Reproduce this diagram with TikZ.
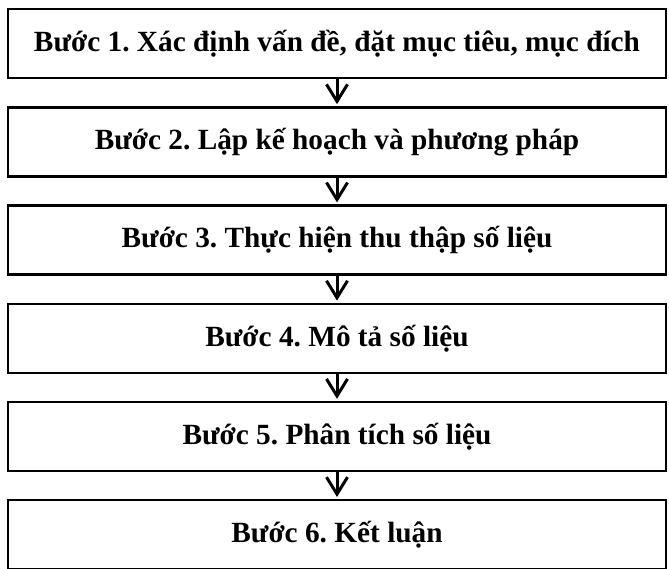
\documentclass[tikz,border=0pt]{standalone}
\usepackage{fontspec}
\setmainfont{Liberation Serif}
\usetikzlibrary{arrows.meta}
\frenchspacing
\begin{document}
\begin{tikzpicture}[x=1pt,y=-1pt,
  stepbox/.style={draw=black,line width=2.4pt,minimum width=658pt,minimum height=69pt,inner sep=0pt,
    font=\fontsize{29.3}{33}\selectfont\bfseries,anchor=north},
  flow/.style={line width=3pt,-{Straight Barb[length=17pt,width=21pt,line width=3pt]},shorten >=2pt}]
\useasboundingbox (0,0) rectangle (669,568);
\node[stepbox] (b1) at (337,8) {Bước 1. Xác định vấn đề, đặt mục tiêu, mục đích};
\node[stepbox] (b2) at (337,106.2) {Bước 2. Lập kế hoạch và phương pháp};
\node[stepbox] (b3) at (337,204.4) {Bước 3. Thực hiện thu thập số liệu};
\node[stepbox] (b4) at (337,302.6) {Bước 4. Mô tả số liệu};
\node[stepbox] (b5) at (337,400.8) {Bước 5. Phân tích số liệu};
\node[stepbox] (b6) at (337,499) {Bước 6. Kết luận};
\draw[flow] (b1.south) -- (b2.north);
\draw[flow] (b2.south) -- (b3.north);
\draw[flow] (b3.south) -- (b4.north);
\draw[flow] (b4.south) -- (b5.north);
\draw[flow] (b5.south) -- (b6.north);
\end{tikzpicture}
\end{document}
